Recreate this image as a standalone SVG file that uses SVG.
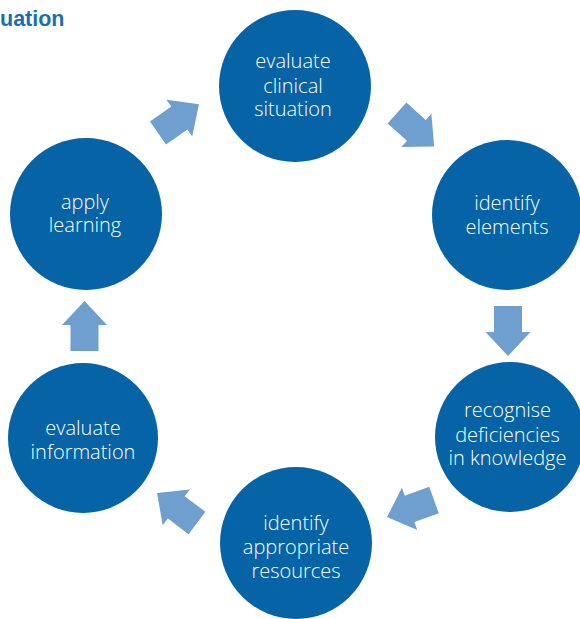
<svg xmlns="http://www.w3.org/2000/svg" width="580" height="619" viewBox="0 0 580 619">
<defs>
<style>
.node circle{fill:#0563a6;}
.node text{fill:#ffffff;font-family:"Open Sans","Liberation Sans",sans-serif;font-weight:300;font-size:20px;text-anchor:middle;}
.arrow{fill:#6e9fcf;}
.title{fill:#1a6fb0;font-family:"Liberation Sans",Arial,sans-serif;font-weight:bold;font-size:21.5px;}
</style>
<path id="arr" d="M0,-14 L26,-14 L26,-22.5 L50,0 L26,22.5 L26,14 L0,14 Z"/>
</defs>
<rect width="580" height="619" fill="#ffffff"/>
<text class="title" x="0" y="26">uation</text>
<g id="connectors">
<use href="#arr" class="arrow" transform="translate(158,133) rotate(-35)"/>
<use href="#arr" class="arrow" transform="translate(397,113) rotate(42)"/>
<use href="#arr" class="arrow" transform="translate(508,306) rotate(90)"/>
<use href="#arr" class="arrow" transform="translate(434,500) rotate(160)"/>
<use href="#arr" class="arrow" transform="translate(197,523) rotate(217)"/>
<use href="#arr" class="arrow" transform="translate(84.5,351) rotate(-90)"/>
</g>
<g id="node-evaluate-clinical" class="node">
<circle cx="295" cy="86" r="76"/>
<text x="293" y="68">evaluate</text>
<text x="293" y="93">clinical</text>
<text x="293" y="116">situation</text>
</g>
<g id="node-identify-elements" class="node">
<circle cx="507" cy="215" r="75"/>
<text x="507" y="210">identify</text>
<text x="507" y="234">elements</text>
</g>
<g id="node-recognise" class="node">
<circle cx="510" cy="437" r="75"/>
<text x="507.5" y="417">recognise</text>
<text x="507.5" y="442">deficiencies</text>
<text x="507.5" y="465">in knowledge</text>
</g>
<g id="node-identify-resources" class="node">
<circle cx="296" cy="543" r="76"/>
<text x="296" y="530">identify</text>
<text x="296" y="554">appropriate</text>
<text x="296" y="578">resources</text>
</g>
<g id="node-evaluate-information" class="node">
<circle cx="83" cy="438" r="75"/>
<text x="83" y="435">evaluate</text>
<text x="83" y="459">information</text>
</g>
<g id="node-apply-learning" class="node">
<circle cx="86" cy="214" r="76"/>
<text x="85" y="209">apply</text>
<text x="85" y="232">learning</text>
</g>
</svg>
